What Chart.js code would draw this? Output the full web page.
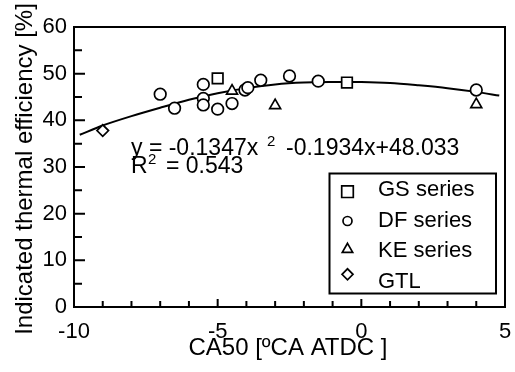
<!DOCTYPE html>
<html>
<head>
<meta charset="utf-8">
<script src="https://cdn.jsdelivr.net/npm/chart.js@4/dist/chart.umd.min.js"></script>
<style>
  html, body { margin: 0; padding: 0; background: #fff; }
  #wrap { width: 515px; height: 372px; }
</style>
</head>
<body>
<div id="wrap"><canvas id="chart" width="515" height="372"></canvas></div>
<script>
var FONT = '"Liberation Sans", Arial, Helvetica, sans-serif';

// CA50 [deg CA ATDC] against indicated thermal efficiency [%]
var gsX = [-5, -0.5];
var gsY = [49.0, 48.1];
var dfX = [-7, -6.5, -5.5, -5.5, -5.5, -5, -4.5, -4.05, -3.95, -3.5, -2.5, -1.5, 4];
var dfY = [45.6, 42.6, 47.7, 44.7, 43.3, 42.4, 43.6, 46.5, 47.0, 48.6, 49.5, 48.4, 46.5];
var keX = [-4.5, -3, 4];
var keY = [46.3, 43.2, 43.4];
var gtlX = [-9];
var gtlY = [37.8];

// fitted curve as drawn in the figure
var fitX = [-9.8, -9, -8, -7, -6, -5, -4, -3, -2, -1, 0, 1, 2, 3, 4, 4.8];
var fitY = [36.9, 38.9, 40.9, 42.7, 44.4, 45.8, 46.9, 47.7, 48.1, 48.2, 48.2, 48.0, 47.5, 46.9, 46.1, 45.3];

var xTicks = [-10, -5, 0, 5];
var yTicks = [0, 10, 20, 30, 40, 50, 60];

var xTitle = 'CA50 [\u00baCA ATDC ]';
var yTitle = 'Indicated thermal efficiency [%]';
var eqText1 = 'y = -0.1347x';
var eqText2 = '-0.1934x+48.033';
var r2Text = '= 0.543';

function pts(xs, ys) {
  return xs.map(function(x, i) { return { x: x, y: ys[i] }; });
}

function marker(label, data, style, r, legR) {
  return {
    label: label, data: data, pointStyle: style, pointRadius: r, legR: legR,
    pointBackgroundColor: '#fff', pointBorderColor: '#000', pointBorderWidth: 1.7,
    showLine: false
  };
}

var datasets = [
  marker('GS series', pts(gsX, gsY), 'rect', 7.5, 8.2),
  marker('DF series', pts(dfX, dfY), 'circle', 5.8, 4.5),
  marker('KE series', pts(keX, keY), 'triangle', 6.3, 6),
  marker('GTL', pts(gtlX, gtlY), 'rectRot', 5.8, 5.5),
  {
    label: 'fit', data: pts(fitX, fitY), showLine: true, pointRadius: 0,
    borderColor: '#000', borderWidth: 2, tension: 0.3, fill: false
  }
];

var decor = {
  id: 'decor',
  beforeDatasetsDraw: function(chart) {
    var ctx = chart.ctx, a = chart.chartArea;
    var xs = chart.scales.x, ys = chart.scales.y;
    ctx.save();
    ctx.strokeStyle = '#000';
    ctx.lineWidth = 2;
    ctx.strokeRect(a.left, a.top, a.right - a.left, a.bottom - a.top);
    ctx.beginPath();
    for (var v = -9; v < 5; v++) {
      var px = xs.getPixelForValue(v);
      var len = v % 5 === 0 ? 8 : 6;
      ctx.moveTo(px, a.bottom);
      ctx.lineTo(px, a.bottom - len);
    }
    for (var w = 5; w < 60; w += 5) {
      var py = ys.getPixelForValue(w);
      var l2 = w % 10 === 0 ? 11 : 8;
      ctx.moveTo(a.left, py);
      ctx.lineTo(a.left + l2, py);
    }
    ctx.stroke();
    ctx.restore();
  },
  afterDraw: function(chart) {
    var ctx = chart.ctx, a = chart.chartArea;
    ctx.save();
    ctx.fillStyle = '#000';
    ctx.textBaseline = 'alphabetic';

    // axis titles
    ctx.font = '24px ' + FONT;
    ctx.textAlign = 'center';
    ctx.fillText(xTitle, 288, 355);
    ctx.save();
    ctx.translate(31.5, 169);
    ctx.rotate(-Math.PI / 2);
    ctx.fillText(yTitle, 0, 0);
    ctx.restore();

    // regression text
    ctx.textAlign = 'left';
    ctx.font = '23px ' + FONT;
    ctx.fillText(eqText1, 131, 155);
    ctx.fillText(eqText2, 286, 155);
    ctx.fillText('R', 131, 173);
    ctx.fillText(r2Text, 166, 173);
    ctx.font = '15px ' + FONT;
    ctx.fillText('2', 267, 146);
    ctx.fillText('2', 148, 164);

    // legend
    ctx.lineWidth = 2;
    ctx.strokeStyle = '#000';
    ctx.fillStyle = '#fff';
    ctx.fillRect(329.5, 173.5, 166.5, 120);
    ctx.strokeRect(329.5, 173.5, 166.5, 120);
    var markY = [191.7, 221, 249.3, 274.3];
    var textY = [196, 226.7, 257.3, 288];
    ctx.font = '22px ' + FONT;
    for (var i = 0; i < 4; i++) {
      var ds = chart.data.datasets[i];
      ctx.fillStyle = '#fff';
      ctx.strokeStyle = '#000';
      ctx.lineWidth = 1.7;
      Chart.helpers.drawPoint(ctx, {
        pointStyle: ds.pointStyle, radius: ds.legR, borderWidth: 1.7, rotation: 0
      }, 347.5, markY[i]);
      ctx.fillStyle = '#000';
      ctx.fillText(ds.label, 378, textY[i]);
    }
    ctx.restore();
  }
};

new Chart(document.getElementById('chart'), {
  type: 'scatter',
  data: { datasets: datasets },
  options: {
    responsive: false,
    animation: false,
    devicePixelRatio: 1,
    layout: { padding: { left: 0, top: 27, right: 0, bottom: 0 } },
    plugins: { legend: { display: false }, tooltip: { enabled: false } },
    scales: {
      x: {
        type: 'linear', min: -10, max: 5,
        afterFit: function(s) { s.height = 65; s.paddingRight = 10; },
        afterBuildTicks: function(s) { s.ticks = xTicks.map(function(v) { return { value: v }; }); },
        grid: { display: false, drawTicks: false },
        border: { display: false },
        ticks: { autoSkip: false, maxRotation: 0, padding: 12, color: '#000', font: { family: FONT, size: 22 } }
      },
      y: {
        type: 'linear', min: 0, max: 60,
        afterFit: function(s) { s.width = 74; },
        afterBuildTicks: function(s) { s.ticks = yTicks.map(function(v) { return { value: v }; }); },
        grid: { display: false, drawTicks: false },
        border: { display: false },
        ticks: { autoSkip: false, padding: 7, color: '#000', font: { family: FONT, size: 22 } }
      }
    }
  },
  plugins: [decor]
});
</script>
</body>
</html>
